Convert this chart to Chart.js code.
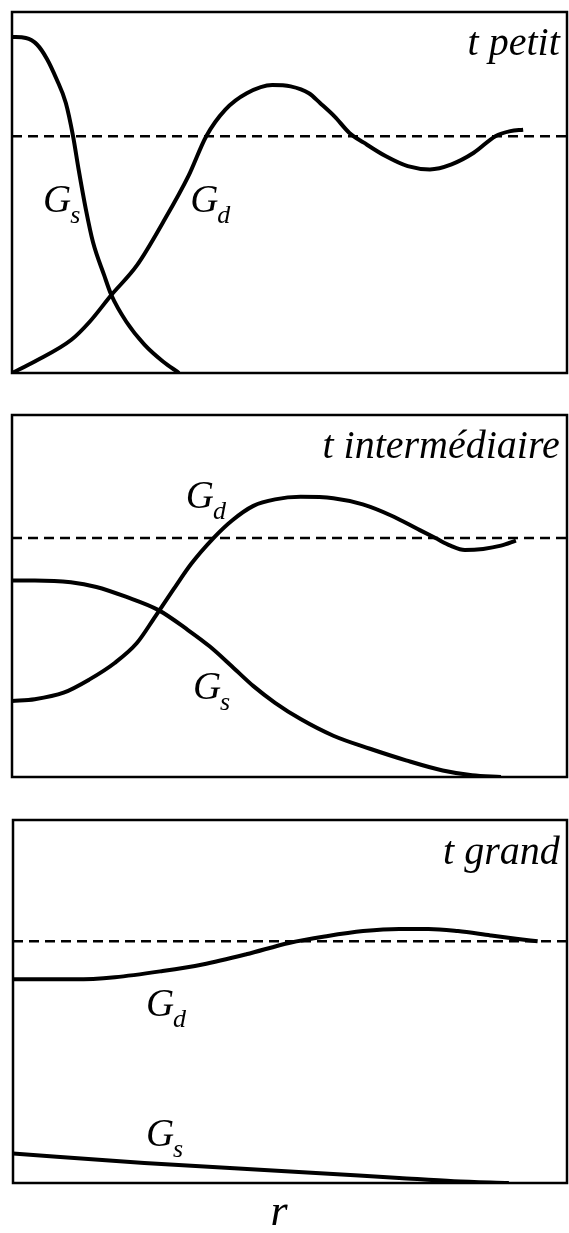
<!DOCTYPE html>
<html lang="fr">
<head>
    <meta charset="UTF-8">
    <title>G_s et G_d en fonction de r</title>
    <script src="https://cdn.jsdelivr.net/npm/chart.js"></script>
    <style>
        body { margin: 0; background: #fff; }
        #wrap { position: relative; width: 569px; height: 1233px; }
        canvas { position: absolute; left: 0; }
    </style>
</head>
<body>
<div id="wrap">
    <canvas id="c1" width="569" height="395" style="top:0px"></canvas>
    <canvas id="c2" width="569" height="395" style="top:400px"></canvas>
    <canvas id="c3" width="569" height="428" style="top:805px"></canvas>
</div>

<script>
    // t petit
    const petitSx = [0, 0.025, 0.045, 0.063, 0.08, 0.097, 0.11, 0.12, 0.133, 0.146, 0.166, 0.179, 0.206, 0.239, 0.272, 0.301];
    const petitSy = [0.931, 0.928, 0.91, 0.87, 0.815, 0.748, 0.656, 0.564, 0.454, 0.362, 0.271, 0.216, 0.142, 0.078, 0.032, 0];
    const petitDx = [0, 0.041, 0.107, 0.14, 0.179, 0.225, 0.272, 0.318, 0.35, 0.384, 0.423, 0.469, 0.502, 0.535, 0.555, 0.581, 0.608, 0.634, 0.673, 0.713, 0.753, 0.792, 0.832, 0.871, 0.898, 0.921];
    const petitDy = [0, 0.032, 0.092, 0.142, 0.216, 0.298, 0.417, 0.546, 0.656, 0.729, 0.775, 0.798, 0.794, 0.775, 0.748, 0.711, 0.665, 0.638, 0.601, 0.573, 0.564, 0.578, 0.610, 0.656, 0.67, 0.674];
    const petitLevel = 0.656;

    // t intermédiaire
    const interSx = [0, 0.041, 0.106, 0.152, 0.205, 0.264, 0.317, 0.356, 0.396, 0.435, 0.474, 0.52, 0.579, 0.645, 0.71, 0.776, 0.829, 0.881];
    const interSy = [0.543, 0.543, 0.538, 0.525, 0.498, 0.461, 0.406, 0.361, 0.306, 0.251, 0.205, 0.16, 0.114, 0.078, 0.046, 0.018, 0.005, 0];
    const interDx = [0, 0.041, 0.093, 0.139, 0.185, 0.225, 0.258, 0.29, 0.323, 0.363, 0.396, 0.435, 0.474, 0.52, 0.579, 0.632, 0.685, 0.731, 0.763, 0.79, 0.816, 0.849, 0.881, 0.908];
    const interDy = [0.21, 0.215, 0.233, 0.269, 0.315, 0.37, 0.443, 0.516, 0.589, 0.66, 0.708, 0.749, 0.767, 0.774, 0.77, 0.753, 0.721, 0.685, 0.66, 0.639, 0.627, 0.63, 0.639, 0.653];
    const interLevel = 0.66;

    // t grand
    const grandSx = [0, 0.237, 0.5, 0.697, 0.796, 0.895];
    const grandSy = [0.081, 0.055, 0.032, 0.014, 0.005, 0];
    const grandDx = [0, 0.112, 0.184, 0.27, 0.342, 0.421, 0.5, 0.566, 0.632, 0.697, 0.75, 0.803, 0.862, 0.908, 0.947];
    const grandDy = [0.561, 0.561, 0.567, 0.584, 0.602, 0.63, 0.662, 0.68, 0.694, 0.7, 0.7, 0.694, 0.682, 0.673, 0.666];
    const grandLevel = 0.666;

    const titles = ['t petit', 't intermédiaire', 't grand'];
    const axisLabel = 'r';

    const zip = (xs, ys) => xs.map((x, i) => ({ x: x, y: ys[i] }));

    // frame + text labels drawn on top
    const framePlugin = {
        id: 'frame',
        afterDraw(chart, args, opts) {
            const { ctx, chartArea: a, scales } = chart;
            ctx.save();
            ctx.strokeStyle = '#000';
            ctx.lineWidth = 2.5;
            ctx.strokeRect(a.left, a.top, a.right - a.left, a.bottom - a.top);

            ctx.fillStyle = '#000';
            ctx.font = 'italic 40px "Liberation Serif"';
            ctx.textAlign = 'right';
            ctx.textBaseline = 'alphabetic';
            ctx.fillText(opts.title, scales.x.getPixelForValue(0.987), scales.y.getPixelForValue(0.88));

            ctx.textAlign = 'left';
            opts.labels.forEach(l => {
                const px = scales.x.getPixelForValue(l.x);
                const py = scales.y.getPixelForValue(l.y);
                ctx.font = 'italic 39px "Liberation Serif"';
                ctx.fillText('G', px, py);
                const w = ctx.measureText('G').width;
                ctx.font = 'italic 26px "Liberation Serif"';
                ctx.fillText(l.sub, px + w - 1, py + 11);
            });

            if (opts.axis) {
                ctx.font = 'italic 44px "Liberation Serif"';
                ctx.textAlign = 'left';
                ctx.fillText(opts.axis, scales.x.getPixelForValue(0.465), a.bottom + 42);
            }
            ctx.restore();
        }
    };

    function makePanel(id, sx, sy, dx, dy, level, title, labels, pad, axis) {
        const curve = {
            borderColor: '#000',
            borderWidth: 4,
            pointRadius: 0,
            fill: false,
            cubicInterpolationMode: 'monotone'
        };
        return new Chart(document.getElementById(id), {
            type: 'line',
            data: {
                datasets: [
                    Object.assign({ label: 'G_s', data: zip(sx, sy) }, curve),
                    Object.assign({ label: 'G_d', data: zip(dx, dy) }, curve),
                    {
                        label: 'niveau',
                        data: [{ x: 0, y: level }, { x: 1, y: level }],
                        borderColor: '#000',
                        borderWidth: 2.5,
                        borderDash: [10, 6],
                        pointRadius: 0,
                        fill: false
                    }
                ]
            },
            options: {
                responsive: false,
                animation: false,
                layout: { padding: pad },
                plugins: {
                    legend: { display: false },
                    tooltip: { enabled: false },
                    frame: { title: title, labels: labels, axis: axis }
                },
                scales: {
                    x: { type: 'linear', min: 0, max: 1, display: false },
                    y: { type: 'linear', min: 0, max: 1, display: false }
                }
            },
            plugins: [framePlugin]
        });
    }

    makePanel('c1', petitSx, petitSy, petitDx, petitDy, petitLevel, titles[0],
        [{ x: 0.056, y: 0.446, sub: 's' }, { x: 0.321, y: 0.446, sub: 'd' }],
        { top: 12, bottom: 22, left: 12, right: 2 }, null);

    makePanel('c2', interSx, interSy, interDx, interDy, interLevel, titles[1],
        [{ x: 0.313, y: 0.743, sub: 'd' }, { x: 0.326, y: 0.215, sub: 's' }],
        { top: 15, bottom: 18, left: 12, right: 2 }, null);

    makePanel('c3', grandSx, grandSy, grandDx, grandDy, grandLevel, titles[2],
        [{ x: 0.24, y: 0.46, sub: 'd' }, { x: 0.24, y: 0.102, sub: 's' }],
        { top: 15, bottom: 50, left: 13, right: 2 }, axisLabel);
</script>

</body>
</html>
